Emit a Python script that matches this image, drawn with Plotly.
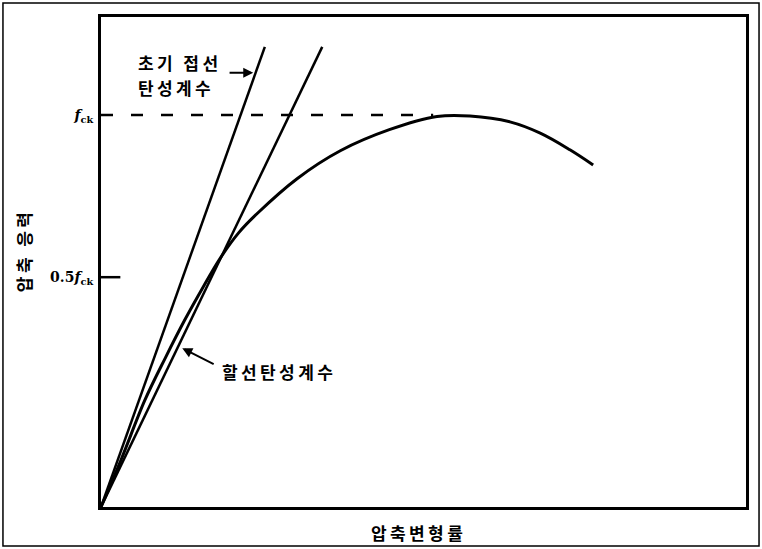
import plotly.graph_objects as go

# stress-strain curve (x: strain, y: stress, 0..100 of the box)
strain = [0, 3.1, 6.8, 10.0, 13.0, 15.8, 18.4, 21.3, 24.3, 30.4, 37.1, 44.7, 52.1, 57.2, 63.4, 68.1, 72.7, 76.3]
stress = [0, 9.6, 21.8, 30.5, 38.2, 44.8, 50.6, 55.9, 60.0, 67.0, 72.7, 77.0, 79.7, 79.8, 78.6, 76.3, 72.9, 69.8]

# initial tangent and secant modulus lines
tangent_x = [0, 25.4]
tangent_y = [0, 93.9]
secant_x = [0, 34.3]
secant_y = [0, 93.9]

fck = 80.0
half_fck = 46.9      # where the 0.5fck tick is drawn
fck_dash_end = 51.5

tick_vals = [fck, half_fck]
tick_text = ["<b><i>f</i><sub>ck</sub></b>", "<b>0.5<i>f</i><sub>ck</sub></b>"]

font_kr = "Noto Sans CJK KR"
ts = "\u2009"   # thin space, the printed labels are loosely spaced


def spaced(s):
    return "<b>" + ts.join(s) + "</b>"


fig = go.Figure()

fig.add_trace(go.Scatter(x=[0, fck_dash_end], y=[fck, fck], mode="lines",
                         line=dict(color="black", width=2.5, dash="12px,18px")))
fig.add_trace(go.Scatter(x=[0, 3.0], y=[half_fck, half_fck], mode="lines",
                         line=dict(color="black", width=2.5)))
fig.add_trace(go.Scatter(x=tangent_x, y=tangent_y, mode="lines",
                         line=dict(color="black", width=2.5)))
fig.add_trace(go.Scatter(x=secant_x, y=secant_y, mode="lines",
                         line=dict(color="black", width=2.5)))
fig.add_trace(go.Scatter(x=strain, y=stress, mode="lines",
                         line=dict(color="black", width=3, shape="spline", smoothing=1.0)))

# labels
fig.add_annotation(x=5.5, y=90.8, text=spaced("초기 접선"), showarrow=False,
                   xanchor="left", font=dict(family=font_kr, size=17, color="black"))
fig.add_annotation(x=5.5, y=85.7, text=spaced("탄성계수"), showarrow=False,
                   xanchor="left", font=dict(family=font_kr, size=17, color="black"))
fig.add_annotation(x=23.6, y=88.6, ax=19.7, ay=88.6, axref="x", ayref="y", text="",
                   showarrow=True, arrowhead=2, arrowsize=1, arrowwidth=2, arrowcolor="black")

fig.add_annotation(x=18.4, y=27.6, text=spaced("할선탄성계수"), showarrow=False,
                   xanchor="left", font=dict(family=font_kr, size=17, color="black"))
fig.add_annotation(x=12.6, y=32.4, ax=17.7, ay=29.0, axref="x", ayref="y", text="",
                   showarrow=True, arrowhead=2, arrowsize=1, arrowwidth=2, arrowcolor="black")

# axis titles
fig.add_annotation(x=0.49, y=-0.022, xref="paper", yref="paper", yanchor="top",
                   text=spaced("압축변형률"), showarrow=False,
                   font=dict(family=font_kr, size=17, color="black"))
fig.add_annotation(x=-0.121, y=0.52, xref="paper", yref="paper", xanchor="center",
                   textangle=-90, text=spaced("압축 응력"), showarrow=False,
                   font=dict(family=font_kr, size=17, color="black"))

# outer frame round the whole picture
fig.add_shape(type="rect", xref="paper", yref="paper",
              x0=-0.152, x1=1.0202, y0=-0.0796, y1=1.0286,
              line=dict(color="black", width=1.5))

fig.update_xaxes(range=[0, 100], showgrid=False, zeroline=False, showticklabels=False,
                 ticks="", showline=True, mirror=True, linecolor="black", linewidth=3)
fig.update_yaxes(range=[0, 100], showgrid=False, zeroline=False, ticks="",
                 tickvals=tick_vals, ticktext=tick_text, ticklabelstandoff=2,
                 tickfont=dict(family="DejaVu Serif", size=14, color="black"),
                 showline=True, mirror=True, linecolor="black", linewidth=3)

fig.update_layout(width=762, height=549, showlegend=False,
                  margin=dict(l=101, r=16, t=17, b=42),
                  plot_bgcolor="white", paper_bgcolor="white")

# page body margin would push the figure 8px down/right
fig.write_html("out.html", config={"displayModeBar": False},
               post_script="document.body.style.margin='0';")
